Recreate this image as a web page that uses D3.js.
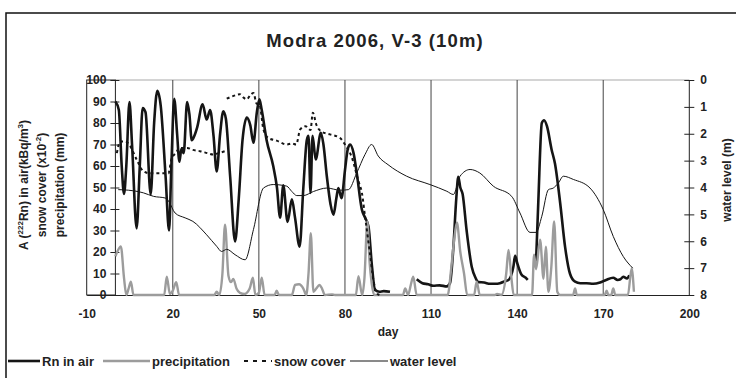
<!DOCTYPE html>
<html>
<head>
<meta charset="utf-8">
<script src="https://cdn.jsdelivr.net/npm/d3@7"></script>
<style>
  body { margin: 0; background: #fff; }
  text { font-family: "Liberation Sans", Arial, sans-serif; font-weight: bold; fill: #222; }
</style>
</head>
<body>
<div id="chart"></div>
<script>
// Rn in air (kBq/m3), null = gap
var rn_day = [0, 1.2, 2.2, 3, 3.8, 4.9, 5.8, 7.4, 8.5, 9.5, 10.5, 12.3, 13.5, 14.6, 15.8, 17.5, 18.7, 19.5, 20.5, 21.5,
    22.3, 23, 23.8, 25, 25.8, 26.6, 27.5, 28.5, 30.4, 31.8, 33, 34.2, 35.3, 36.5, 37.6, 38.5, 40, 41.7, 43, 44.3,
    45.8, 47, 48.1, 49.3, 50.2, 51, 52.7, 55, 56.3, 57.4, 58.5, 60, 61.5, 62.6, 64.2, 65.5, 66.7, 67.3, 68, 68.7,
    69.8, 71.6, 72.5, 73.7, 75, 76, 77, 77.7, 78.8, 80, 81, 81.8, 83, 84.1, 85.9, 87, 88.2, 89.4, 90.5, 92,
    93.5, 95.7, 100, 105, 107, 109, 110.8, 113, 115.5, 116.6, 117.8, 118.8, 119.5, 120.2, 121, 122.4, 124.2, 125.5, 126.5, 128.5,
    130.6, 132.5, 134, 136, 137, 138.7, 139.3, 140, 141.5, 143, 143.7, 145, 146.6, 147.4, 148.6, 149.4, 150.4, 152, 153.2, 155,
    156.7, 158.4, 160.2, 162, 164.2, 166.5, 168.9, 171, 173.5, 175, 176, 177, 178.3, 179.1];
var rn_val = [90, 86, 60, 47, 60, 89.7, 70, 31, 60, 87, 85, 46.7, 80, 95, 88, 55, 30, 60, 91.3, 75,
    62, 68, 66, 89.7, 84, 72, 74, 78, 88.7, 81.6, 86, 74, 57.5, 75, 85.5, 82, 55, 24.9, 45, 72,
    82.5, 79, 70.8, 85, 91, 86, 72, 60, 50, 36, 51, 34, 44.5, 36, 22.5, 50, 72, 74, 47.5, 74,
    63, 75.5, 70, 55, 42, 37.3, 45, 49.8, 45, 58, 68, 70, 66, 56.8, 39.7, 36, 31.9, 13.5, 2.3, 1.5,
    1.8, 1.5, null, 7.3, 5.5, 5, 4.3, 4.5, 4, 5.5, 22.5, 45, 55, 50, 47, 30, 13, 8, 6, 5.8,
    5.2, 5.2, 5.5, 6.5, 7, 13.2, 18.2, 15, 9.5, 8, 7, null, 15.5, 44, 80, 81.3, 78.5, 67.7, 61, 42.8,
    22.5, 10, 6.2, 5.5, 5.5, 5.2, 5.8, 7, 8, 7, 7.3, 8.5, 7.7, 9.2];

// precipitation (mm)
var pr_day = [0, 0.7, 1.9, 3, 3.8, 4.6, 5.4, 6.3, 17, 17.9, 19, 20, 21.2, 22.2, 34.5, 35.3, 36.2, 37.3, 38.2, 39.4,
    40.3, 41.1, 42.2, 43.4, 45, 46.8, 47.9, 48.8, 50, 51, 52, 55.5, 56.2, 57, 61.5, 62.6, 64, 65.5, 66.5, 67.3,
    68.1, 69, 70, 71.1, 72, 73, 75.5, 76.5, 83.8, 84.7, 86, 86.8, 87.8, 88.6, 89.3, 90.2, 100.2, 101, 102, 103,
    103.8, 105, 115.8, 117, 118, 119, 120.2, 121.5, 122.6, 125, 125.9, 127, 132.2, 133, 134.5, 136.2, 137, 138, 138.8, 145.2,
    145.9, 146.6, 148, 149.2, 150, 150.9, 151.9, 152.9, 154, 155, 159.5, 160.2, 160.8, 170.5, 171.2, 171.8, 172.8, 173.5, 174.2, 178.6,
    179.9, 180.7];
var pr_val = [18, 20.2, 22.6, 8, 0, 3, 6.2, 0, 0, 8.5, 0.5, 2, 6, 0, 0, 1.5, 0, 10, 32.7, 9,
    6, 7.5, 3, 1, 0.5, 3, 8, 0, 1, 8, 0, 0, 2, 0, 0, 4.7, 5, 3, 0, 10,
    28.7, 1.5, 3, 4.7, 3, 0, 0.3, 0, 0, 8.8, 0, 8, 34.2, 15, 5.5, 0, 0, 3, 0, 5,
    8.5, 0, 0, 12, 25, 33.7, 20, 10, 0, 0, 6.2, 0, 0, 0.5, 0, 10, 21, 8, 0, 0,
    18.7, 12, 25.7, 7.6, 22.5, 1.5, 12.7, 34.2, 1.5, 0, 0, 3, 0, 0, 2, 0, 0, 3, 0, 0,
    12.4, 1.5];

// snow cover (x10^-2)
var sn_day = [0.5, 1.7, 3.4, 5, 7.4, 9.8, 12, 15, 18.5, 19.5, 21, 22.5, 25, 27, 29.5, 32, 34, 36, 38.2, 38.5,
    38.8, 40, 41.2, 43.4, 44.5, 45.8, 47, 48.1, 49.2, 50.2, 51.6, 53.3, 56.2, 59.7, 61.5, 63, 64.4, 66.2, 68, 68.8,
    70, 71.8, 74.8, 78.3, 80, 82.4, 84.7, 85.9, 87, 88.7, 89.9, 91, 92];
var sn_val = [66, 71.4, 71.4, 69.6, 63, 57.5, 56.6, 56.6, 56.6, 63, 66, 68.4, 68.4, 67.5, 66.9, 66, 65.3, 66, 66.9, null,
    91.3, 92, 92.6, 93.4, 92, 91, 93, 94, 89, 88.6, 77, 73, 71.8, 70, 70.5, 70, 77, 78.5, 76.7, 84.8,
    79.3, 76, 74.7, 73, 70, 64, 52.9, 47.5, 36.5, 19.4, 7, 1, 0];

// water level (m), right axis
var wl_day = [1, 4.5, 9.8, 13.3, 17.3, 18.5, 20.8, 24.3, 27, 31.8, 35.3, 37, 38.8, 41.7, 45.2, 48.1, 51.6, 55, 59.7, 61.5,
    63.2, 65.5, 69, 73.7, 78.3, 81.2, 84.1, 87, 89.3, 91.6, 95, 101.5, 109.6, 115.5, 117.8, 120.1, 123.6, 127, 131.7, 138.1,
    141, 144.5, 146.6, 148.6, 150.9, 152.6, 154.4, 156.1, 159.6, 165.4, 170, 173.5, 177, 180.3];
var wl_val = [4.08, 4.1, 4.2, 4.33, 4.39, 4.5, 4.95, 5.13, 5.26, 5.76, 6.19, 6.38, 6.3, 6.5, 6.69, 5.57, 4.02, 3.89, 3.95, 4.15,
    4.3, 4.3, 4.15, 4.02, 4.1, 4.08, 3.46, 2.77, 2.4, 2.83, 3.15, 3.58, 3.89, 4.14, 4.26, 3.58, 3.33, 3.46, 3.95, 4.33,
    4.95, 5.67, 5.67, 5.07, 4.08, 4.02, 3.83, 3.58, 3.7, 4.02, 4.82, 5.82, 6.57, 7.0];

var x_ticks = [-10, 20, 50, 80, 110, 140, 170, 200];
var left_ticks = [0, 10, 20, 30, 40, 50, 60, 70, 80, 90, 100];
var right_ticks = [0, 1, 2, 3, 4, 5, 6, 7, 8];
var legend_names = ['Rn in air', 'precipitation', 'snow cover', 'water level'];

var chart_width = 736;
var chart_height = 378;

var svg = d3.select('#chart')
    .append('svg')
    .attr('width', chart_width)
    .attr('height', chart_height)

// outer frame
svg.append('rect')
    .attr('x', 6).attr('y', 13)
    .attr('width', 760).attr('height', 420)
    .attr('fill', 'none')
    .attr('stroke', '#111')
    .attr('stroke-width', 1.5)

var x_scale = d3.scaleLinear().domain([-10, 200]).range([86.7, 689.3])
var y_left = d3.scaleLinear().domain([0, 100]).range([295, 80])
var y_right = d3.scaleLinear().domain([0, 8]).range([80, 295])

// plot frame bits
svg.append('line')
    .attr('x1', x_scale(0)).attr('x2', x_scale(200))
    .attr('y1', y_left(100)).attr('y2', y_left(100))
    .attr('stroke', '#aaa').attr('stroke-width', 1.2)
svg.append('rect')
    .attr('x', x_scale(-10)).attr('y', y_left(100))
    .attr('width', x_scale(0) - x_scale(-10))
    .attr('height', y_left(0) - y_left(100))
    .attr('fill', 'none')
    .attr('stroke', '#222').attr('stroke-width', 1)

// vertical grid
svg.selectAll('.grid')
    .data(x_ticks.slice(1, -1))
    .enter()
    .append('line')
    .attr('class', 'grid')
    .attr('x1', function (d) { return x_scale(d) })
    .attr('x2', function (d) { return x_scale(d) })
    .attr('y1', y_left(100)).attr('y2', y_left(0))
    .attr('stroke', '#444').attr('stroke-width', 1)

// x axis
var x_axis = svg.append('g')
    .attr('transform', 'translate(0,' + y_left(0) + ')')
    .call(d3.axisBottom(x_scale).tickValues(x_ticks).tickSize(0).tickPadding(14)
        .tickFormat(function (d) { return String(d) }))
x_axis.select('.domain').attr('stroke', '#222')
x_axis.selectAll('text').attr('font-size', 12).attr('fill', '#222')

// left axis (crosses at day 0)
var l_axis = svg.append('g')
    .attr('transform', 'translate(' + (x_scale(0) + 4) + ',0)')
    .call(d3.axisLeft(y_left).tickValues(left_ticks).tickSize(9).tickPadding(4))
l_axis.select('.domain').remove()
l_axis.selectAll('line').attr('stroke', '#222')
l_axis.selectAll('text').attr('font-size', 12).attr('fill', '#222')

// right axis
var r_axis = svg.append('g')
    .attr('transform', 'translate(' + (x_scale(200) - 5) + ',0)')
    .call(d3.axisRight(y_right).tickValues(right_ticks).tickSize(10).tickPadding(6))
r_axis.select('.domain').remove()
r_axis.selectAll('line').attr('stroke', '#222')
r_axis.selectAll('text').attr('font-size', 12).attr('fill', '#222')
svg.append('line')
    .attr('x1', x_scale(200)).attr('x2', x_scale(200))
    .attr('y1', y_right(0)).attr('y2', y_right(8))
    .attr('stroke', '#222')

function pairs(days, vals) {
    return days.map(function (d, i) { return { day: d, v: vals[i] } })
}

var line_left = d3.line()
    .defined(function (d) { return d.v !== null })
    .x(function (d) { return x_scale(d.day) })
    .y(function (d) { return y_left(d.v) })
    .curve(d3.curveMonotoneX)

var line_right = d3.line()
    .x(function (d) { return x_scale(d.day) })
    .y(function (d) { return y_right(d.v) })
    .curve(d3.curveMonotoneX)

svg.append('path')
    .datum(pairs(rn_day, rn_val))
    .attr('d', line_left)
    .attr('fill', 'none')
    .attr('stroke', '#151515')
    .attr('stroke-width', 2.6)

svg.append('path')
    .datum(pairs(pr_day, pr_val))
    .attr('d', line_left)
    .attr('fill', 'none')
    .attr('stroke', '#9c9c9c')
    .attr('stroke-width', 2.4)

svg.append('path')
    .datum(pairs(sn_day, sn_val))
    .attr('d', line_left)
    .attr('fill', 'none')
    .attr('stroke', '#151515')
    .attr('stroke-width', 2)
    .attr('stroke-dasharray', '3,3')

svg.append('path')
    .datum(pairs(wl_day, wl_val))
    .attr('d', line_right)
    .attr('fill', 'none')
    .attr('stroke', '#151515')
    .attr('stroke-width', 1)

// title
svg.append('text')
    .attr('x', 375).attr('y', 47)
    .attr('text-anchor', 'middle')
    .attr('font-size', 18.5)
    .attr('letter-spacing', 1.1)
    .text('Modra 2006, V-3 (10m)')

svg.append('text')
    .attr('x', x_scale(95)).attr('y', 336)
    .attr('text-anchor', 'middle')
    .attr('font-size', 12)
    .text('day')

// left axis title
var yt = svg.append('text')
    .attr('transform', 'translate(28,185) rotate(-90)')
    .attr('text-anchor', 'middle')
    .attr('font-size', 12)
yt.append('tspan').attr('x', 0).attr('y', 0).text('A (')
yt.append('tspan').attr('font-size', 8).attr('dy', -5).text('222')
yt.append('tspan').attr('dy', 5).text('Rn) in air(kBq/m')
yt.append('tspan').attr('font-size', 8).attr('dy', -5).text('3')
yt.append('tspan').attr('dy', 5).text(')')

var yt2 = svg.append('text')
    .attr('transform', 'translate(46,185) rotate(-90)')
    .attr('text-anchor', 'middle')
    .attr('font-size', 12)
yt2.append('tspan').text('snow cover (x10')
yt2.append('tspan').attr('font-size', 8).attr('dy', -5).text('-2')
yt2.append('tspan').attr('dy', 5).text(')')

svg.append('text')
    .attr('transform', 'translate(64,185) rotate(-90)')
    .attr('text-anchor', 'middle')
    .attr('font-size', 12)
    .text('precipitation (mm)')

svg.append('text')
    .attr('transform', 'translate(731,180) rotate(-90)')
    .attr('text-anchor', 'middle')
    .attr('font-size', 12)
    .text('water level (m)')

// legend
var legend_x = [8, 103, 244, 350];
var legend_len = [32, 47, 28, 38];
var legend_style = [
    { c: '#151515', w: 2.6, dash: null },
    { c: '#9c9c9c', w: 2.6, dash: null },
    { c: '#151515', w: 2, dash: '4,5' },
    { c: '#151515', w: 1, dash: null }
];
var legend = svg.selectAll('.leg')
    .data(legend_names)
    .enter()
    .append('g')
    .attr('class', 'leg')
    .attr('transform', function (d, i) { return 'translate(' + legend_x[i] + ',361)' })
legend.append('line')
    .attr('x1', 0).attr('x2', function (d, i) { return legend_len[i] })
    .attr('y1', 0).attr('y2', 0)
    .attr('stroke', function (d, i) { return legend_style[i].c })
    .attr('stroke-width', function (d, i) { return legend_style[i].w })
    .attr('stroke-dasharray', function (d, i) { return legend_style[i].dash })
legend.append('text')
    .attr('x', function (d, i) { return legend_len[i] + 2 })
    .attr('y', 4.5)
    .attr('font-size', 13)
    .text(function (d) { return d })
</script>
</body>
</html>
